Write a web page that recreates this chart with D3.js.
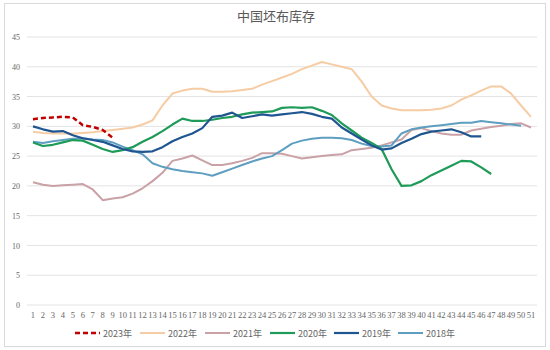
<!DOCTYPE html>
<html><head><meta charset="utf-8">
<script src="https://cdn.jsdelivr.net/npm/d3@7"></script>
<style>body{margin:0;background:#fff;}svg{display:block;font-family:"Noto Sans CJK SC","DejaVu Sans",sans-serif;}</style>
</head><body><svg id="c" width="550" height="350"></svg>
<script>
const weeks = d3.range(1, 52);
const yTicks = [0,5,10,15,20,25,30,35,40,45];
const seriesNames = ["2023年","2022年","2021年","2020年","2019年","2018年"];
const s2023 = [31.2,31.4,31.5,31.6,31.5,30.2,29.9,29.4,28.1];
const s2022 = [29.1,28.9,28.8,28.8,28.8,28.9,29.0,29.2,29.4,29.6,29.8,30.3,31.0,33.5,35.5,36.0,36.3,36.3,35.8,35.8,35.9,36.1,36.3,37.0,37.6,38.2,38.8,39.6,40.2,40.8,40.4,40.0,39.6,37.5,35.0,33.5,33.0,32.7,32.7,32.7,32.8,33.0,33.5,34.5,35.2,36.0,36.7,36.7,35.5,33.5,31.6];
const s2021 = [20.6,20.2,20.0,20.1,20.2,20.3,19.4,17.6,17.9,18.1,18.7,19.6,20.8,22.2,24.2,24.6,25.1,24.3,23.5,23.5,23.8,24.2,24.7,25.5,25.5,25.4,25.0,24.6,24.8,25.0,25.2,25.3,26.0,26.2,26.4,26.8,27.3,27.8,29.4,29.7,29.2,28.8,28.6,28.6,29.3,29.6,29.9,30.1,30.4,30.5,29.8];
const s2020 = [27.3,26.7,26.9,27.3,27.7,27.6,26.9,26.2,25.7,26.0,26.5,27.4,28.2,29.2,30.3,31.3,30.9,30.9,31.1,31.4,31.6,32.0,32.3,32.4,32.5,33.1,33.2,33.1,33.2,32.6,31.9,30.5,29.3,28.1,27.2,26.2,22.8,20.0,20.1,20.8,21.8,22.6,23.4,24.2,24.1,23.1,22.0];
const s2019 = [30.0,29.5,29.1,29.2,28.5,28.0,27.7,27.4,26.8,26.2,25.8,25.7,25.8,26.5,27.5,28.2,28.8,29.7,31.6,31.8,32.3,31.4,31.7,32.0,31.8,32.0,32.2,32.4,32.1,31.6,31.3,29.8,28.8,27.8,26.8,26.1,26.3,27.2,27.9,28.7,29.1,29.3,29.5,29.0,28.3,28.3];
const s2018 = [27.4,27.2,27.5,27.7,27.9,28.0,27.8,27.7,27.3,26.6,26.0,25.3,23.8,23.2,22.8,22.5,22.3,22.1,21.7,22.3,22.9,23.5,24.1,24.6,25.0,26.0,27.1,27.6,27.9,28.1,28.1,28.0,27.7,27.1,26.7,26.6,26.8,28.8,29.5,29.8,30.0,30.2,30.4,30.6,30.6,30.9,30.7,30.5,30.3,30.1];

const seriesData = [s2023,s2022,s2021,s2020,s2019,s2018];
const colors = ["#C00000","#F6CCA4","#C9A1A6","#1E9B58","#1F5591","#5E9EC0"];
const dashes = ["5,3",null,null,null,null,null];
const widths = [2.5,2,2,2.2,2.2,2];

const svg = d3.select("#c");
svg.append("rect").attr("x",4.5).attr("y",3.5).attr("width",541).attr("height",343)
  .attr("fill","#fff").attr("stroke","#d9d9d9");

const x = d3.scaleBand().domain(weeks).range([28,536]);
const y = d3.scaleLinear().domain([0,45]).range([305,37]);

// gridlines
svg.append("g").selectAll("line").data(yTicks).join("line")
  .attr("x1",27).attr("x2",537).attr("y1",d=>y(d)).attr("y2",d=>y(d))
  .attr("stroke","#e3e3e3").attr("stroke-width",1);

// y axis labels
const yAxis = d3.axisLeft(y).tickValues(yTicks).tickSize(0).tickPadding(0);
const gy = svg.append("g").attr("transform","translate(20,0)").call(yAxis);
gy.select(".domain").remove();
gy.selectAll("text").attr("fill","#666").attr("font-size",8).attr("font-family","Liberation Serif, serif");

// x axis labels
const xAxis = d3.axisBottom(x).tickSize(0).tickPadding(7);
const gx = svg.append("g").attr("transform","translate(0,305)").call(xAxis);
gx.select(".domain").remove();
gx.selectAll("text").attr("fill","#666").attr("font-size",8.5).attr("font-family","Liberation Serif, serif");

// lines (draw order: older first so 2023 on top)
const line = d3.line().x((d,i)=>x(weeks[i])+x.bandwidth()/2).y(d=>y(d));
const order = [1,2,5,3,4,0];
order.forEach(k=>{
  svg.append("path").datum(seriesData[k]).attr("d",line)
    .attr("fill","none").attr("stroke",colors[k]).attr("stroke-width",widths[k])
    .attr("stroke-linejoin","round")
    .attr("stroke-dasharray",dashes[k]);
});

// title
svg.append("text").attr("x",276).attr("y",21).attr("text-anchor","middle")
  .attr("font-size",13).attr("fill","#595959").attr("font-family","Noto Sans CJK SC, sans-serif")
  .text("中国坯布库存");

// legend
const legX = [75,140,205,270,334,398];
const lg = svg.append("g").selectAll("g").data(seriesNames).join("g")
  .attr("transform",(d,i)=>`translate(${legX[i]},333)`);
lg.append("line").attr("x1",0).attr("x2",25).attr("y1",0).attr("y2",0)
  .attr("stroke",(d,i)=>colors[i]).attr("stroke-width",(d,i)=>widths[i])
  .attr("stroke-dasharray",(d,i)=>dashes[i]);
lg.append("text").attr("x",28).attr("y",3.5).attr("font-size",9).attr("fill","#666")
  .attr("font-family","Noto Sans CJK SC, sans-serif").text(d=>d);
</script></body></html>
